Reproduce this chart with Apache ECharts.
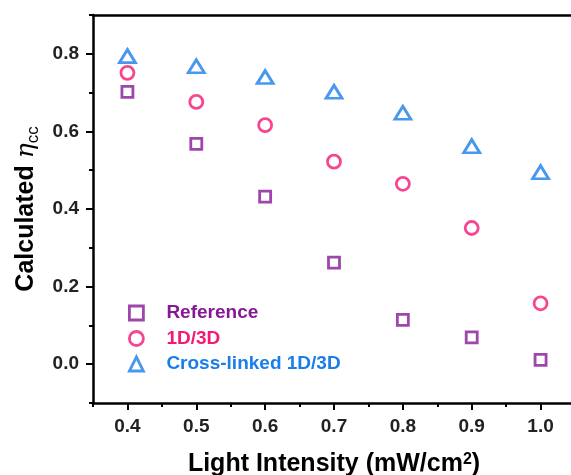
<!DOCTYPE html>
<html>
<head>
<meta charset="UTF-8">
<title>eta cc</title>
<script src="https://cdn.jsdelivr.net/npm/echarts@6/dist/echarts.min.js"></script>
<style>
  html, body { margin: 0; padding: 0; background: #fff; }
</style>
</head>
<body>
<div id="main" style="width:571px;height:475px;"></div>
<script>
// light intensity, mW/cm2
var intensity = [0.4, 0.5, 0.6, 0.7, 0.8, 0.9, 1.0];
var reference = [0.702, 0.568, 0.432, 0.262, 0.114, 0.069, 0.011];
var oneDThreeD = [0.751, 0.676, 0.616, 0.522, 0.465, 0.351, 0.157];
var crossLinked = [0.794, 0.768, 0.740, 0.702, 0.648, 0.562, 0.495];

var xMajor = [0.4, 0.5, 0.6, 0.7, 0.8, 0.9, 1.0];
var xMinor = [0.35, 0.45, 0.55, 0.65, 0.75, 0.85, 0.95, 1.05];
var yMajor = [0.0, 0.2, 0.4, 0.6, 0.8];
var yMinor = [-0.1, 0.1, 0.3, 0.5, 0.7, 0.9];

var purple = '#861896';
var pink = '#F51874';
var blue = '#1A7EEA';

function pairs(xs, ys) {
  var out = [];
  for (var i = 0; i < xs.length; i++) {
    out.push([xs[i], ys[i]]);
  }
  return out;
}

var chart = echarts.init(document.getElementById('main'));

var tickFont = { color: '#222', fontSize: 19, fontWeight: 'bold', fontFamily: 'Liberation Sans, Arial' };

var option = {
  animation: false,
  grid: { left: 93, top: 15, right: -4, bottom: 72, outerBoundsMode: 'none' },
  legend: {
    orient: 'vertical',
    left: 128,
    top: 303,
    padding: 0,
    itemWidth: 14,
    itemHeight: 14,
    itemGap: 5.5,
    itemStyle: { borderWidth: 2.8 },
    textStyle: { fontSize: 19, fontWeight: 'bold', fontFamily: 'Liberation Sans, Arial', lineHeight: 20, padding: [0, 0, 0, 18] },
    data: [
      { name: 'Reference', textStyle: { color: purple } },
      { name: '1D/3D', textStyle: { color: pink } },
      { name: 'Cross-linked 1D/3D', textStyle: { color: blue } }
    ]
  },
  xAxis: [
    {
      type: 'value',
      min: 0.35,
      max: 1.05,
      interval: 0.05,
      position: 'bottom',
      splitLine: { show: false },
      axisLine: { onZero: false, lineStyle: { color: '#000', width: 2.5 } },
      axisTick: { customValues: xMajor, length: 7, lineStyle: { color: '#000', width: 2 } },
      axisLabel: Object.assign({ customValues: xMajor, margin: 14, formatter: function (v) { return v.toFixed(1); } }, tickFont),
      name: '{a|Light Intensity (mW/cm}{s|2}{a|)}',
      nameLocation: 'middle',
      nameGap: 49,
      nameTextStyle: {
        rich: {
          a: { fontSize: 25, fontWeight: 'bold', fontFamily: 'Liberation Sans, Arial', color: '#000', lineHeight: 26, verticalAlign: 'top' },
          s: { fontSize: 16, fontWeight: 'bold', fontFamily: 'Liberation Sans, Arial', color: '#000', lineHeight: 16, verticalAlign: 'top' }
        }
      }
    },
    {
      type: 'value',
      min: 0.35,
      max: 1.05,
      interval: 0.05,
      position: 'bottom',
      splitLine: { show: false },
      axisLine: { show: false, onZero: false },
      axisTick: { customValues: xMinor, length: 4, lineStyle: { color: '#000', width: 2 } },
      axisLabel: { show: false }
    },
    {
      type: 'value',
      min: 0.35,
      max: 1.05,
      position: 'top',
      splitLine: { show: false },
      axisLine: { onZero: false, lineStyle: { color: '#000', width: 2.5 } },
      axisTick: { show: false },
      axisLabel: { show: false }
    }
  ],
  yAxis: [
    {
      type: 'value',
      min: -0.1,
      max: 0.9,
      interval: 0.1,
      position: 'left',
      splitLine: { show: false },
      axisLine: { show: true, onZero: false, lineStyle: { color: '#000', width: 2.5 } },
      axisTick: { customValues: yMajor, length: 7, lineStyle: { color: '#000', width: 2 } },
      axisLabel: Object.assign({ customValues: yMajor, margin: 14, formatter: function (v) { return v.toFixed(1); } }, tickFont),
      name: '{a|Calculated }{b|η}{c|cc}',
      nameLocation: 'middle',
      nameGap: 40,
      nameTextStyle: {
        rich: {
          a: { fontSize: 25, fontWeight: 'bold', fontFamily: 'Liberation Sans, Arial', color: '#000', lineHeight: 26, verticalAlign: 'top' },
          b: { fontSize: 25, fontStyle: 'italic', fontFamily: 'DejaVu Serif', color: '#000', lineHeight: 26, verticalAlign: 'top' },
          c: { fontSize: 17, fontFamily: 'Liberation Sans, Arial', color: '#000', lineHeight: 17, padding: [11, 0, 0, 0], verticalAlign: 'top' }
        }
      }
    },
    {
      type: 'value',
      min: -0.1,
      max: 0.9,
      interval: 0.1,
      position: 'left',
      splitLine: { show: false },
      axisLine: { show: false, onZero: false },
      axisTick: { customValues: yMinor, length: 4, lineStyle: { color: '#000', width: 2 } },
      axisLabel: { show: false }
    }
  ],
  series: [
    {
      name: 'Reference',
      type: 'scatter',
      symbol: 'rect',
      symbolSize: 11,
      itemStyle: { color: 'rgba(0,0,0,0)', borderColor: purple, borderWidth: 2.8 },
      data: pairs(intensity, reference)
    },
    {
      name: '1D/3D',
      type: 'scatter',
      symbol: 'circle',
      symbolSize: 13,
      itemStyle: { color: 'rgba(0,0,0,0)', borderColor: pink, borderWidth: 2.8 },
      data: pairs(intensity, oneDThreeD)
    },
    {
      name: 'Cross-linked 1D/3D',
      type: 'scatter',
      symbol: 'triangle',
      symbolSize: [16, 13],
      itemStyle: { color: 'rgba(0,0,0,0)', borderColor: blue, borderWidth: 2.8 },
      data: pairs(intensity, crossLinked)
    }
  ]
};

chart.setOption(option);
</script>
</body>
</html>
